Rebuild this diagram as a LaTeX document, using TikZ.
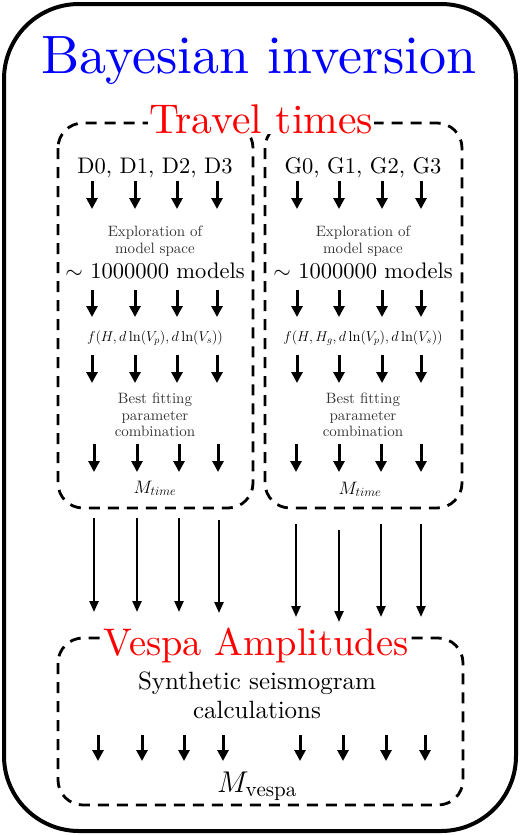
\documentclass[tikz,border=0pt]{standalone}
\usepackage{fix-cm}
\usepackage{fontspec}
\setmainfont{lmroman10-regular.otf}[ItalicFont=lmroman10-italic.otf, BoldFont=lmroman10-bold.otf]
\usetikzlibrary{arrows.meta}
\begin{document}
\begin{tikzpicture}[x=1pt,y=-1pt,
  outerbox/.style={line width=4pt, rounded corners=75pt},
  dbox/.style={line width=2.8pt, dash pattern=on 11pt off 8pt, rounded corners=25pt},
  arr/.style={line width=3pt, -{Triangle[length=11pt,width=11pt]}},
  longarr/.style={line width=2.3pt, -{Triangle[length=11pt,width=9pt]}},
  bigtxt/.style={font=\fontsize{22.5}{26}\selectfont, anchor=base, inner sep=0pt},
  smalltxt/.style={font=\fontsize{15}{16.5}\selectfont, align=center, text=black!80, inner sep=0pt},
  headtxt/.style={fill=white, inner sep=1pt, text=red, anchor=base}]
\useasboundingbox (0,0) rectangle (520,835);
% outer box
\draw[outerbox] (4,4) rectangle (516,831);
% dashed boxes
\draw[dbox] (58,123) rectangle (253,508);
\draw[dbox] (265,123) rectangle (462,508);
\draw[dbox] (58,638) rectangle (463,805);
% titles
\node[text=blue, font=\fontsize{54}{60}\selectfont, anchor=base, inner sep=0pt] (title) at (259,73) {Bayesian inversion};
\node[headtxt, font=\fontsize{41.5}{48}\selectfont] (tt) at (261,133) {Travel times};
\node[headtxt, font=\fontsize{38.5}{45}\selectfont] (va) at (256,655) {Vespa Amplitudes};
% left column texts
\node[bigtxt] (dl) at (155,173) {D0, D1, D2, D3};
\node[smalltxt] (el) at (155,241) {Exploration of\\model space};
\node[bigtxt] (ml) at (155,278) {$\sim$ 1000000 models};
\node[font=\fontsize{14.3}{16}\selectfont, anchor=base, inner sep=0pt] (fl) at (155,341) {$f(H, d\ln(V_p), d\ln(V_s))$};
\node[smalltxt] (bl) at (155,415) {Best fitting\\parameter\\combination};
\node[font=\fontsize{18}{22}\selectfont, anchor=base, inner sep=0pt] (mtl) at (155,493) {$M_{time}$};
% right column texts
\node[bigtxt] (gl) at (363,173) {G0, G1, G2, G3};
\node[smalltxt] (er) at (363,241) {Exploration of\\model space};
\node[bigtxt] (mr) at (363,278) {$\sim$ 1000000 models};
\node[font=\fontsize{14.3}{16}\selectfont, anchor=base, inner sep=0pt] (fr) at (363,341) {$f(H, H_g, d\ln(V_p), d\ln(V_s))$};
\node[smalltxt] (br) at (363,415) {Best fitting\\parameter\\combination};
\node[font=\fontsize{18}{22}\selectfont, anchor=base, inner sep=0pt] (mtr) at (360,494) {$M_{time}$};
% vespa texts
\node[font=\fontsize{25}{29}\selectfont, align=center, inner sep=0pt] (syn) at (257,695.8) {Synthetic seismogram\\calculations};
\node[font=\fontsize{30}{34}\selectfont, anchor=base, inner sep=0pt] (mv) at (257,792) {$M_{\mathrm{vespa}}$};
% arrows inside travel-time boxes
\foreach \x [count=\i] in {92,135,177,217,297,339,382,421} {
  \coordinate (ra\i) at (\x,181); \coordinate (rb\i) at (\x,209);
  \draw[arr] (ra\i) -- (rb\i);
  \coordinate (rc\i) at (\x,290); \coordinate (rd\i) at (\x,317);
  \draw[arr] (rc\i) -- (rd\i);
  \coordinate (re\i) at (\x,355); \coordinate (rf\i) at (\x,383);
  \draw[arr] (re\i) -- (rf\i);
}
\foreach \x [count=\i] in {94,137,179,218,296,339,381,421} {
  \coordinate (rg\i) at (\x,444); \coordinate (rh\i) at (\x,472);
  \draw[arr] (rg\i) -- (rh\i);
}
% long arrows
\foreach \x/\ys/\ye [count=\i] in {94/518/612,137/518/612,179/518/612,219/520/613,296/524/617,339/530/622,381/524/617,421/524/617} {
  \coordinate (la\i) at (\x,\ys); \coordinate (lb\i) at (\x,\ye);
  \draw[longarr] (la\i) -- (lb\i);
}
% vespa arrows
\foreach \x [count=\i] in {98,142,184,223,300,343,386,425} {
  \coordinate (va\i) at (\x,735); \coordinate (vb\i) at (\x,761);
  \draw[arr] (va\i) -- (vb\i);
}
\end{tikzpicture}
\end{document}
